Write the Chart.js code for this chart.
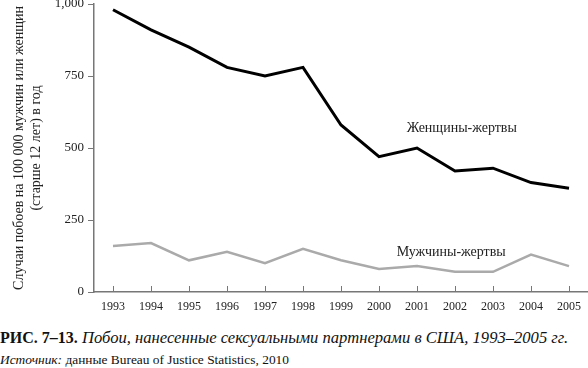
<!DOCTYPE html>
<html lang="ru">
<head>
<meta charset="utf-8">
<title>Побои, нанесенные сексуальными партнерами в США</title>
<script src="https://cdn.jsdelivr.net/npm/chart.js@4"></script>
<style>
  body { margin: 0; background: #fff; width: 588px; height: 368px; position: relative; overflow: hidden; }
  #chart { position: absolute; left: 0; top: 0; }
  .caption { position: absolute; left: 0; top: 328px; line-height: 19px; font-family: "Liberation Serif", serif; font-size: 16.6px; color: #111; white-space: nowrap; }
  .caption b { font-weight: bold; font-size: 16px; }
  .caption i { font-style: italic; }
  .source { position: absolute; left: 0; top: 352px; line-height: 16px; font-family: "Liberation Serif", serif; font-size: 13.4px; color: #111; white-space: nowrap; }
</style>
</head>
<body>
<canvas id="chart" width="588" height="320"></canvas>
<div class="caption"><b>РИС. 7–13.</b> <i>Побои, нанесенные сексуальными партнерами в США, 1993–2005 гг.</i></div>
<div class="source"><i>Источник:</i> данные Bureau of Justice Statistics, 2010</div>
<script>
  const years = ["1993", "1994", "1995", "1996", "1997", "1998", "1999", "2000", "2001", "2002", "2003", "2004", "2005"];
  const women = [980, 910, 850, 780, 750, 780, 580, 470, 500, 420, 430, 380, 360];
  const men = [160, 170, 110, 140, 100, 150, 110, 80, 90, 70, 70, 130, 90];
  const yTicks = [0, 250, 500, 750, 1000];
  const seriesNames = ["Женщины-жертвы", "Мужчины-жертвы"];

  const axisColor = "#777";

  // labels next to the lines + small x ticks pointing up
  const extras = {
    id: "extras",
    afterDraw(chart) {
      const ctx = chart.ctx;
      const x = chart.scales.x;
      const y = chart.scales.y;
      ctx.save();
      ctx.strokeStyle = axisColor;
      ctx.lineWidth = 1;
      years.forEach((yr, i) => {
        const px = Math.round(x.getPixelForValue(i)) + 0.5;
        ctx.beginPath();
        ctx.moveTo(px, y.bottom);
        ctx.lineTo(px, y.bottom - 6);
        ctx.stroke();
      });
      ctx.fillStyle = "#222";
      ctx.font = "14px 'Liberation Serif', serif";
      ctx.textAlign = "center";
      ctx.textBaseline = "middle";
      ctx.fillText(seriesNames[0], x.getPixelForValue(9.18), y.getPixelForValue(569));
      ctx.fillText(seriesNames[1], x.getPixelForValue(8.9), y.getPixelForValue(139));
      ctx.restore();
    }
  };

  new Chart(document.getElementById("chart"), {
    type: "line",
    data: {
      labels: years,
      datasets: [
        { label: seriesNames[0], data: women, borderColor: "#000", borderWidth: 3, pointRadius: 0, tension: 0 },
        { label: seriesNames[1], data: men, borderColor: "#aaa", borderWidth: 2.5, pointRadius: 0, tension: 0 }
      ]
    },
    options: {
      responsive: false,
      devicePixelRatio: 1,
      animation: false,
      locale: "en-US",
      layout: { padding: { top: 4, right: 0, bottom: 0, left: 0 } },
      plugins: { legend: { display: false }, tooltip: { enabled: false } },
      scales: {
        x: {
          offset: true,
          grid: { display: false, drawTicks: false },
          border: { display: true, color: axisColor, width: 1.5 },
          ticks: { color: "#222", padding: 8, maxRotation: 0, autoSkip: false, font: { family: "'Liberation Serif', serif", size: 12 } },
          afterFit(s) { s.height = 28; s.paddingLeft = 0; s.paddingRight = 0; }
        },
        y: {
          min: 0,
          max: 1000,
          afterBuildTicks(s) { s.ticks = yTicks.map(v => ({ value: v })); },
          grid: { drawOnChartArea: false, drawTicks: true, tickLength: 6, color: axisColor },
          border: { display: true, color: axisColor, width: 1.5 },
          ticks: { color: "#222", padding: 4, font: { family: "'Liberation Serif', serif", size: 13 } },
          title: {
            display: true,
            text: ["Случаи побоев на 100 000 мужчин или женщин", "(старше 12 лет) в год"],
            color: "#222",
            font: { family: "'Liberation Serif', serif", size: 14, lineHeight: 1.2 },
            padding: { top: 11, bottom: 0 }
          },
          afterFit(s) { s.width = 94; s.paddingTop = 0; s.paddingBottom = 0; }
        }
      }
    },
    plugins: [extras]
  });
</script>
</body>
</html>
